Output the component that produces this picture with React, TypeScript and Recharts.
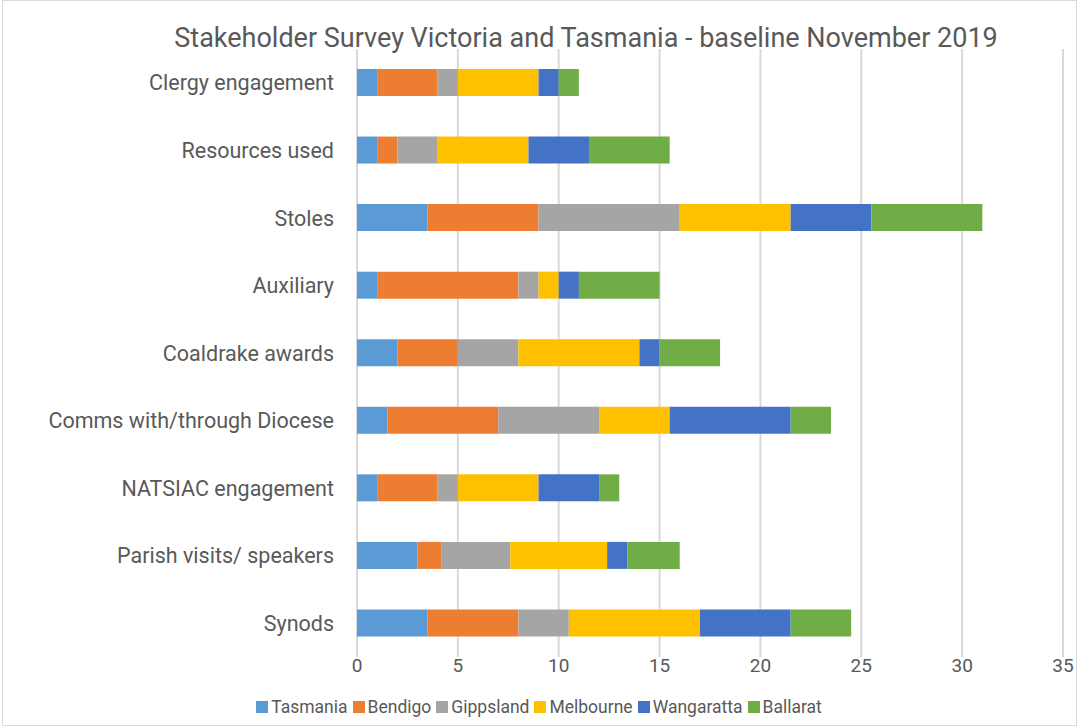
import { BarChart, Bar, XAxis, YAxis, CartesianGrid, Legend } from 'recharts';

const categories = [
    "Clergy engagement",
    "Resources used",
    "Stoles",
    "Auxiliary",
    "Coaldrake awards",
    "Comms with/through Diocese",
    "NATSIAC engagement",
    "Parish visits/ speakers",
    "Synods",
];

const tasmania = [1, 1, 3.5, 1, 2, 1.5, 1, 3, 3.5];
const bendigo = [3, 1, 5.5, 7, 3, 5.5, 3, 1.2, 4.5];
const gippsland = [1, 2, 7, 1, 3, 5, 1, 3.4, 2.5];
const melbourne = [4, 4.5, 5.5, 1, 6, 3.5, 4, 4.8, 6.5];
const wangaratta = [1, 3, 4, 1, 1, 6, 3, 1, 4.5];
const ballarat = [1, 4, 5.5, 4, 3, 2, 1, 2.6, 3];

const xTicks = [0, 5, 10, 15, 20, 25, 30, 35];

const series = [
    { key: "Tasmania", values: tasmania, color: "#5B9BD5" },
    { key: "Bendigo", values: bendigo, color: "#ED7D31" },
    { key: "Gippsland", values: gippsland, color: "#A5A5A5" },
    { key: "Melbourne", values: melbourne, color: "#FFC000" },
    { key: "Wangaratta", values: wangaratta, color: "#4472C4" },
    { key: "Ballarat", values: ballarat, color: "#70AD47" },
];

const data = categories.map((name, i) => {
    const row: Record<string, string | number> = { name };
    series.forEach((s) => { row[s.key] = s.values[i]; });
    return row;
});

const FONT = "Roboto, 'Liberation Sans', sans-serif";

// keep the legend in series order, not alphabetical
function OrderedLegend() {
    return (
        <div style={{ display: 'flex', justifyContent: 'center', gap: 5, fontSize: 17.5, color: '#595959', fontFamily: FONT }}>
            {series.map((s) => (
                <span key={s.key} style={{ display: 'flex', alignItems: 'center' }}>
                    <span style={{ width: 12, height: 12, background: s.color, marginRight: 3, display: 'inline-block' }} />
                    {s.key}
                </span>
            ))}
        </div>
    );
}

export default function App() {
    return (
        <div style={{ position: 'absolute', left: 0, top: 0, width: 1078, height: 726, background: '#fff', fontFamily: FONT }}>
            <div style={{ position: 'absolute', left: 2, top: 0, width: 1073, height: 724, border: '1px solid #d9d9d9' }} />
            <div style={{ position: 'absolute', left: 0, top: 22, width: 1172, textAlign: 'center', fontSize: 27, color: '#595959' }}>
                Stakeholder Survey Victoria and Tasmania - baseline November 2019
            </div>
            <div style={{ position: 'absolute', left: 0, top: 0 }}>
                <BarChart
                    width={1078}
                    height={726}
                    data={data}
                    layout="vertical"
                    margin={{ top: 49, right: 15, bottom: 19, left: 0 }}
                    barSize={27}
                >
                    <CartesianGrid horizontal={false} stroke="#d9d9d9" strokeWidth={2} />
                    <XAxis
                        type="number"
                        domain={[0, 35]}
                        ticks={xTicks}
                        axisLine={false}
                        tickLine={false}
                        tickSize={0}
                        tickMargin={2}
                        height={30}
                        tick={{ fill: '#595959', fontSize: 19, fontFamily: FONT }}
                    />
                    <YAxis
                        type="category"
                        dataKey="name"
                        width={357}
                        axisLine={false}
                        tickLine={false}
                        tickSize={0}
                        tickMargin={23}
                        tick={{ fill: '#595959', fontSize: 21.5, fontFamily: FONT }}
                    />
                    <Legend
                        verticalAlign="bottom"
                        align="center"
                        content={OrderedLegend}
                        wrapperStyle={{ left: 0, width: 1078, top: 697, bottom: 'auto' }}
                    />
                    {series.map((s) => (
                        <Bar key={s.key} dataKey={s.key} stackId="a" fill={s.color} isAnimationActive={false} />
                    ))}
                </BarChart>
            </div>
        </div>
    );
}
